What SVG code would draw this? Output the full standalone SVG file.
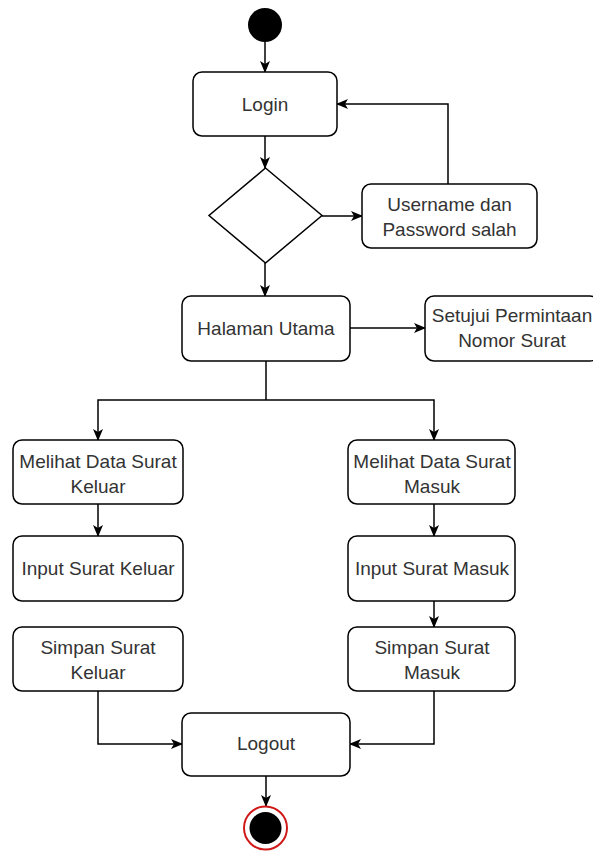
<svg xmlns="http://www.w3.org/2000/svg" width="593" height="854" viewBox="0 0 593 854">
  <style>
    .box { fill: #ffffff; stroke: #000000; stroke-width: 1.5; }
    .lbl { font-family: "Liberation Sans", Arial, sans-serif; font-size: 19px; fill: #333333; text-anchor: middle; }
    .edge { fill: none; stroke: #000000; stroke-width: 1.5; marker-end: url(#arrow); }
    .plain { fill: none; stroke: #000000; stroke-width: 1.5; }
  </style>
  <defs>
    <marker id="arrow" viewBox="0 0 12 10" refX="11" refY="5" markerWidth="12" markerHeight="10" markerUnits="userSpaceOnUse" orient="auto">
      <path d="M0,0 L12,5 L0,10 L3,5 Z" fill="#000000"/>
    </marker>
  </defs>
  <rect width="593" height="854" fill="#ffffff"/>

  <!-- connectors -->
  <g id="connectors">
    <path class="edge" d="M265,42 L265,72"/>
    <path class="edge" d="M265,136 L265,168"/>
    <path class="edge" d="M322,216 L362,216"/>
    <path class="edge" d="M448,184 L448,104 L337,104"/>
    <path class="edge" d="M265,263 L265,296"/>
    <path class="edge" d="M350,328 L425,328"/>
    <path class="plain" d="M266,361 L266,400"/>
    <path class="edge" d="M266,400 L98,400 L98,440"/>
    <path class="edge" d="M266,400 L434,400 L434,440"/>
    <path class="edge" d="M98,504 L98,536"/>
    <path class="edge" d="M434,504 L434,536"/>
    <path class="edge" d="M434,601 L434,627"/>
    <path class="edge" d="M98,691 L98,744 L182,744"/>
    <path class="edge" d="M434,691 L434,744 L350,744"/>
    <path class="edge" d="M266,776 L266,806"/>
  </g>

  <!-- initial state -->
  <g id="start">
    <circle cx="265" cy="25" r="17" fill="#000000"/>
  </g>

  <g id="login">
    <rect class="box" x="193" y="72" width="144" height="64" rx="9"/>
    <text class="lbl" x="265" y="111">Login</text>
  </g>

  <g id="decision">
    <polygon class="box" points="265.5,168 322,215.5 265.5,263 209,215.5"/>
  </g>

  <g id="wrong-login">
    <rect class="box" x="362" y="184" width="175" height="64" rx="9"/>
    <text class="lbl" x="449.5" y="211">Username dan</text>
    <text class="lbl" x="449.5" y="236">Password salah</text>
  </g>

  <g id="main-page">
    <rect class="box" x="182" y="296" width="168" height="65" rx="9"/>
    <text class="lbl" x="266" y="335">Halaman Utama</text>
  </g>

  <g id="approve-number">
    <rect class="box" x="425" y="296" width="174" height="65" rx="9"/>
    <text class="lbl" x="512" y="322">Setujui Permintaan</text>
    <text class="lbl" x="512" y="347">Nomor Surat</text>
  </g>

  <g id="view-outgoing">
    <rect class="box" x="13" y="440" width="170" height="64" rx="9"/>
    <text class="lbl" x="98" y="468">Melihat Data Surat</text>
    <text class="lbl" x="98" y="493">Keluar</text>
  </g>

  <g id="view-incoming">
    <rect class="box" x="348" y="440" width="167" height="64" rx="9"/>
    <text class="lbl" x="432" y="468">Melihat Data Surat</text>
    <text class="lbl" x="432" y="493">Masuk</text>
  </g>

  <g id="input-outgoing">
    <rect class="box" x="13" y="536" width="170" height="65" rx="9"/>
    <text class="lbl" x="98" y="575">Input Surat Keluar</text>
  </g>

  <g id="input-incoming">
    <rect class="box" x="348" y="536" width="167" height="65" rx="9"/>
    <text class="lbl" x="432" y="575">Input Surat Masuk</text>
  </g>

  <g id="save-outgoing">
    <rect class="box" x="13" y="627" width="170" height="64" rx="9"/>
    <text class="lbl" x="98" y="654">Simpan Surat</text>
    <text class="lbl" x="98" y="679">Keluar</text>
  </g>

  <g id="save-incoming">
    <rect class="box" x="348" y="627" width="167" height="64" rx="9"/>
    <text class="lbl" x="432" y="654">Simpan Surat</text>
    <text class="lbl" x="432" y="679">Masuk</text>
  </g>

  <g id="logout">
    <rect class="box" x="182" y="713" width="168" height="63" rx="9"/>
    <text class="lbl" x="266" y="750">Logout</text>
  </g>

  <!-- final state -->
  <g id="end">
    <circle cx="265.5" cy="828" r="21.5" fill="#ffffff" stroke="#d01818" stroke-width="2"/>
    <circle cx="265.5" cy="828" r="16" fill="#000000"/>
  </g>
</svg>
